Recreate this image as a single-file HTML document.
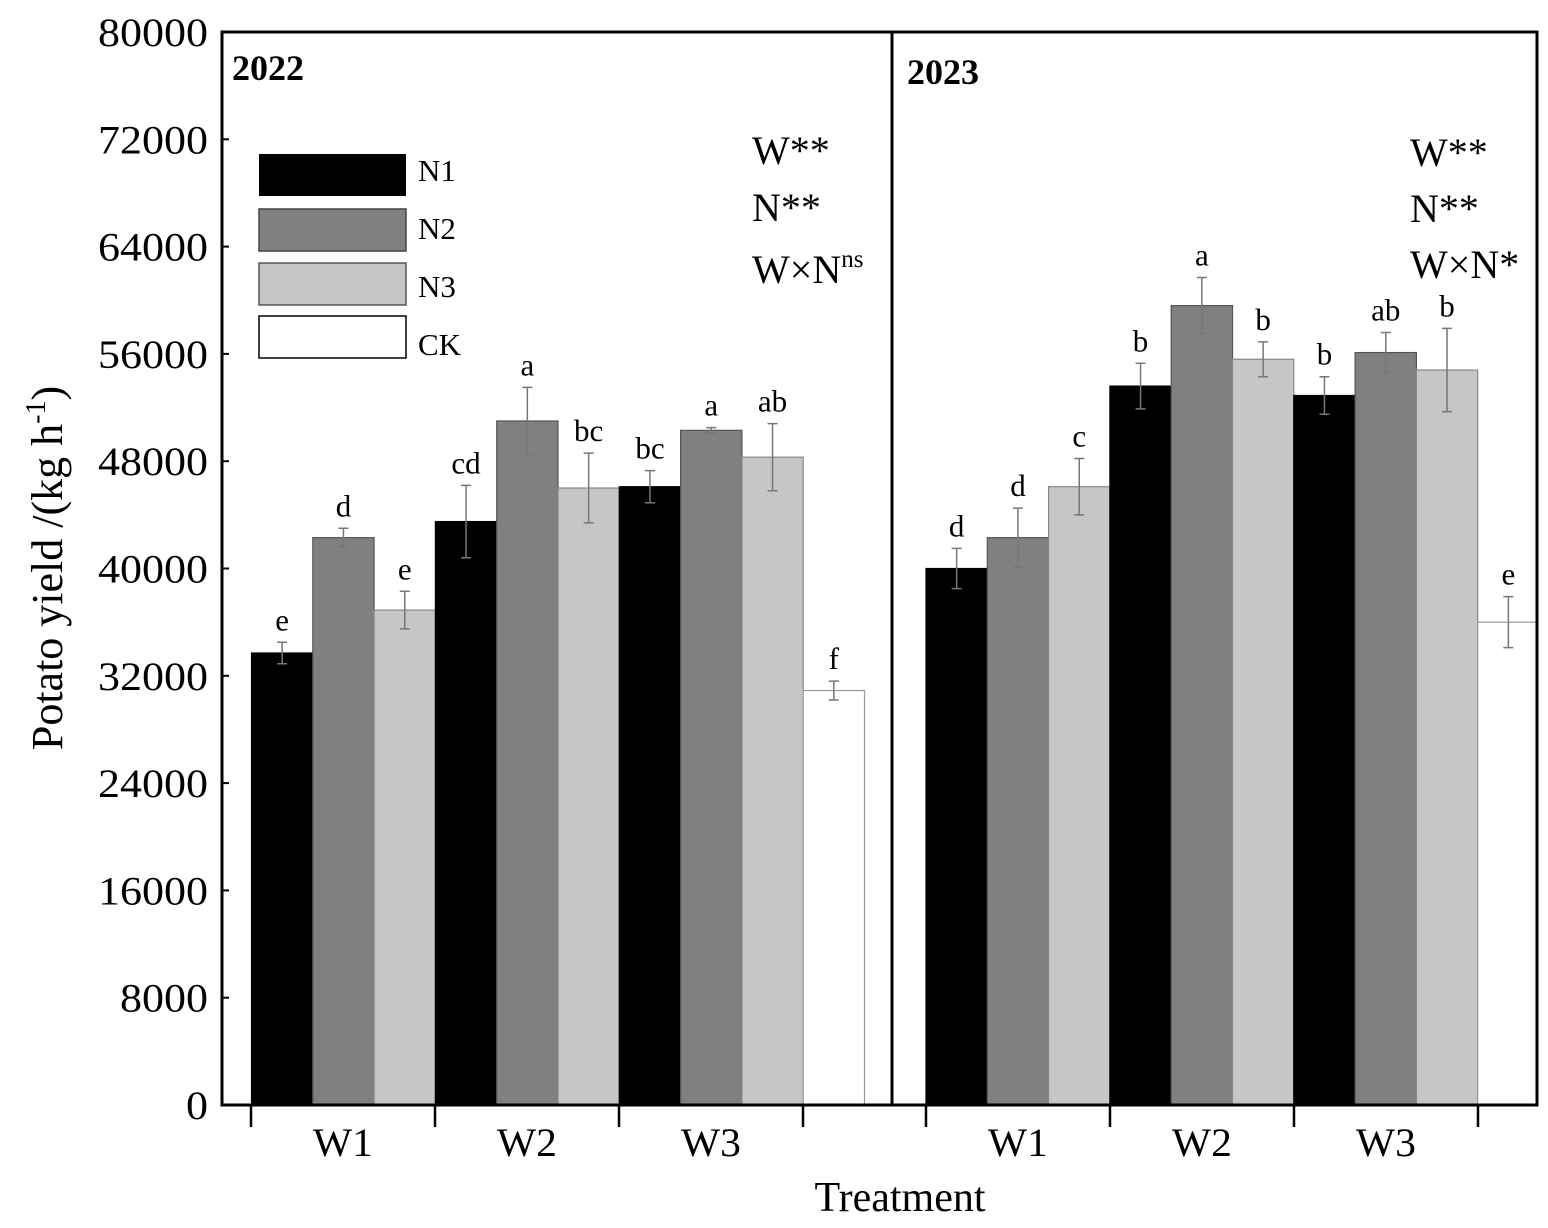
<!DOCTYPE html>
<html><head><meta charset="utf-8"><style>
body{margin:0;background:#fff;}
svg text{font-family:"Liberation Serif",serif;fill:#000;}
</style></head><body>
<svg id="chart" width="1548" height="1223" viewBox="0 0 1548 1223" xmlns="http://www.w3.org/2000/svg"></svg>
<script>
const groups=["W1","W2","W3"];
const seriesNames=["N1","N2","N3","CK"];
const yTicks=[0,8000,16000,24000,32000,40000,48000,56000,64000,72000,80000];
const y2022N=[[33700,42300,36900],[43500,51000,46000],[46100,50300,48300]];
const e2022N=[[800,700,1400],[2700,2500,2600],[1200,200,2500]];
const l2022N=[["e","d","e"],["cd","a","bc"],["bc","a","ab"]];
const y2022CK=30900, e2022CK=700, l2022CK="f";
const y2023N=[[40000,42300,46100],[53600,59600,55600],[52900,56100,54800]];
const e2023N=[[1500,2200,2100],[1700,2100,1300],[1400,1500,3100]];
const l2023N=[["d","d","c"],["b","a","b"],["b","ab","b"]];
const y2023CK=36000, e2023CK=1900, l2023CK="e";

const NS="http://www.w3.org/2000/svg";
const svg=document.getElementById("chart");
function mk(tag,attrs,parent){const e=document.createElementNS(NS,tag);for(const k in attrs)e.setAttribute(k,attrs[k]);(parent||svg).appendChild(e);return e;}
const X0=222,XR=1537,DIV=892,YT=32,YB=1105;
const yS=v=>YB-(v/80000)*(YB-YT);
const BW=61.3;
const fills=["#000000","#808080","#c6c6c6","#ffffff"];
const strokes=["#000","#555","#888","#999"];

function panel(x0,vals,errs,labs,ck,ckE,ckL,name,clipId,clipX,clipW){
  const g=mk("g",{"clip-path":"url(#"+clipId+")"});
  
  
  const cp=mk("clipPath",{id:clipId});mk("rect",{x:clipX,y:YT,width:clipW,height:YB-YT},cp);
  const all=[];
  groups.forEach((gname,gi)=>{for(let s=0;s<3;s++)all.push({v:vals[gi][s],e:errs[gi][s],l:labs[gi][s],s:s,n:gname+"-"+seriesNames[s]});});
  all.push({v:ck,e:ckE,l:ckL,s:3,n:"CK"});
  all.forEach((d,i)=>{
    const x=x0+i*BW, y=yS(d.v);
    const r=mk("rect",{x:x,y:y,width:BW,height:YB-y,fill:fills[d.s],stroke:strokes[d.s],"stroke-width":1.2},g);
    
    
    const cx=x+BW/2, y1=yS(d.v+d.e), y2=yS(d.v-d.e);
    const eb=mk("path",{d:`M${cx},${y1}V${y2}M${cx-5},${y1}H${cx+5}M${cx-5},${y2}H${cx+5}`,stroke:"#777","stroke-width":1.5,fill:"none"},g);
    
    
    const t=mk("text",{x:cx,y:Math.min(y1,y)-12,"text-anchor":"middle","font-size":31});
    t.textContent=d.l;
    
    
  });
}
panel(251.5,y2022N,e2022N,l2022N,y2022CK,e2022CK,l2022CK,"2022","c1",X0,DIV-X0);
panel(926,y2023N,e2023N,l2023N,y2023CK,e2023CK,l2023CK,"2023","c2",DIV,XR-DIV);

const fr=mk("rect",{x:X0,y:YT,width:XR-X0,height:YB-YT,fill:"none",stroke:"#000","stroke-width":3});


const dv=mk("line",{x1:DIV,y1:YT,x2:DIV,y2:YB,stroke:"#000","stroke-width":3});



yTicks.forEach(v=>{
  const y=yS(v);
  const tk=mk("line",{x1:X0,y1:y,x2:X0+7,y2:y,stroke:"#000","stroke-width":2});
  
  
  const t=mk("text",{x:208,y:y+14,"text-anchor":"end","font-size":40,textLength:String(v).length*22,lengthAdjust:"spacingAndGlyphs"});
  t.textContent=v;
  
  
});
[251,435,619,803,926,1110,1294,1478].forEach(x=>{
  const tk=mk("line",{x1:x,y1:YB,x2:x,y2:YB+22,stroke:"#000","stroke-width":2.5});
  
  
});
[[251,"W1"],[435,"W2"],[619,"W3"],[926,"W1"],[1110,"W2"],[1294,"W3"]].forEach(([x,l])=>{
  const t=mk("text",{x:x+BW*1.5,y:1156,"text-anchor":"middle","font-size":40,textLength:60,lengthAdjust:"spacingAndGlyphs"});
  t.textContent=l;
  
  
});
</script>
<svg style="position:absolute;left:0;top:0" width="1548" height="1223">
  <text x="232" y="80" font-size="36" font-weight="bold">2022</text>
  <text x="907" y="84" font-size="36" font-weight="bold">2023</text>
  <g font-size="31">
    <rect x="259" y="154" width="147" height="42" fill="#000"/>
    <text x="418" y="181">N1</text>
    <rect x="259" y="209" width="147" height="42" fill="#808080" stroke="#444" stroke-width="1.5"/>
    <text x="418" y="239">N2</text>
    <rect x="259" y="263" width="147" height="42" fill="#c6c6c6" stroke="#555" stroke-width="1.5"/>
    <text x="418" y="297">N3</text>
    <rect x="259" y="316" width="147" height="42" fill="#fff" stroke="#000" stroke-width="1.5"/>
    <text x="418" y="355">CK</text>
  </g>
  <g font-size="40">
    <text x="752" y="164">W**</text>
    <text x="752" y="221">N**</text>
    <text x="752" y="283">W×N<tspan font-size="25" dy="-16">ns</tspan></text>
  </g>
  <g font-size="40">
    <text x="1410" y="166">W**</text>
    <text x="1410" y="222">N**</text>
    <text x="1410" y="278">W×N*</text>
  </g>
  <text x="900" y="1211" font-size="42" text-anchor="middle">Treatment</text>
  <text transform="translate(62,568) rotate(-90)" font-size="44" text-anchor="middle">Potato yield /(kg h<tspan font-size="28" dy="-17">-1</tspan><tspan dy="17">)</tspan></text>
</svg>
</body></html>
